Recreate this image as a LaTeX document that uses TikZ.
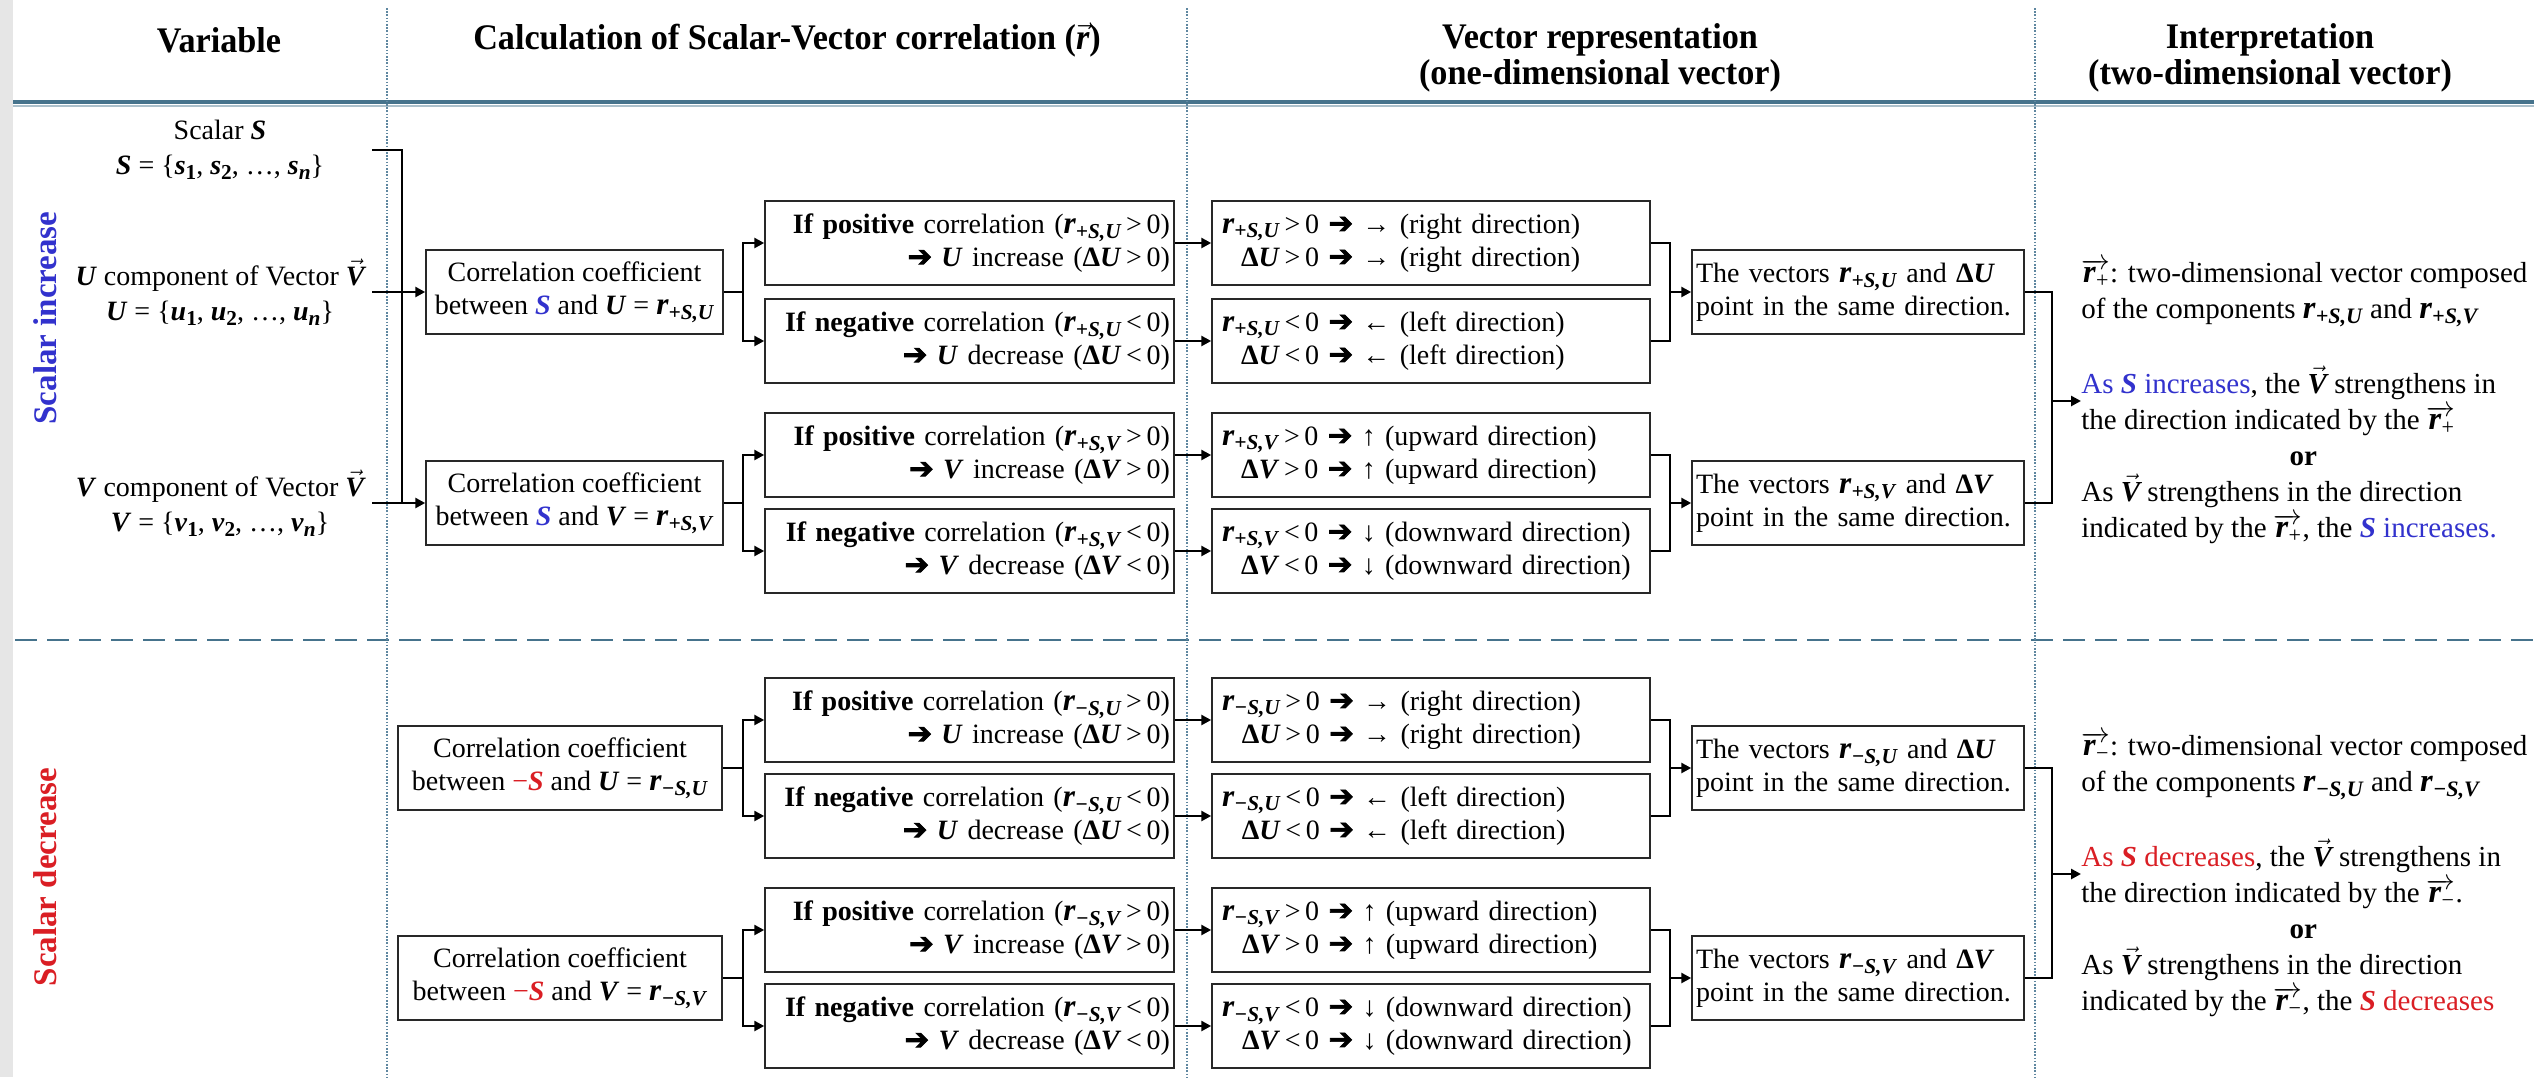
\documentclass[tikz,border=0pt]{standalone}
\usepackage{fontspec}
\usepackage{graphicx}
\setmainfont{Liberation Serif}
\newfontfamily\hdrfont{Liberation Serif}[FakeStretch=0.95]
\newfontfamily\djv{DejaVu Sans}[FakeBold=2.5]
\usetikzlibrary{arrows.meta}
\definecolor{sblue}{RGB}{50,50,205}
\definecolor{sred}{RGB}{218,30,36}
\definecolor{rulec}{RGB}{70,115,140}
\definecolor{dotc}{RGB}{95,135,160}
\definecolor{stripc}{RGB}{230,230,230}
\definecolor{bord}{RGB}{40,40,40}
\newcommand\bi[1]{\textbf{\textit{#1}}}
\newcommand\sbs[1]{\raisebox{-0.38ex}{\scalebox{0.76}{#1}}}
\newcommand\rr{\scalebox{1.12}{\bi{r}}}
\newcommand\rpos[1]{\rr\sbs{\bi{+S,#1}}}
\newcommand\rneg[1]{\rr\sbs{\bi{−S,#1}}}
\newcommand\dlt[1]{\textbf{Δ\textit{#1}}}
\newcommand\harr{{\djv\scalebox{1.05}{➔}}}
\newcommand\vV{\ensuremath{\vec{\mbox{\bfseries\itshape V}}}}
\newcommand\ovr[1]{\ensuremath{\overrightarrow{\mbox{\rr\sbs{#1}}}}}
\newcommand\poscase[2]{\textbf{If positive} correlation (#1\,>\,0)\\\harr{} \bi{#2} increase (\dlt{#2}\,>\,0)}
\newcommand\negcase[2]{\textbf{If negative} correlation (#1\,<\,0)\\\harr{} \bi{#2} decrease (\dlt{#2}\,<\,0)}
\newcommand\vecrows[4]{\begin{tabular}{@{}r@{}l@{}}#1 & \,#3\,0 \harr{} #4\\ \dlt{#2} & \,#3\,0 \harr{} #4\end{tabular}}
\tikzset{
  box/.style={draw=bord, line width=0.75pt, inner ysep=0pt, minimum height=42pt,
    font=\fontsize{14}{16.5}\selectfont},
  corrbox/.style={box, align=center, inner xsep=2pt, minimum width=#1},
  ifbox/.style={box, inner xsep=2pt, text width=200.5pt, align=right},
  vecbox/.style={box, inner xsep=5pt, text width=209pt, align=left},
  samebox/.style={box, inner xsep=2pt, text width=162pt, align=left},
  varn/.style={align=center, minimum width=152pt, inner sep=0pt, font=\fontsize{14}{17.5}\selectfont},
  hdr/.style={align=center, inner sep=0pt, font=\fontsize{18}{18}\selectfont\hdrfont\bfseries},
  side/.style={rotate=90, inner sep=0pt, font=\fontsize{16.5}{18}\selectfont\bfseries},
  interp/.style={align=left, inner sep=0pt, font=\fontsize{14.5}{18}\selectfont},
  conn/.style={line width=1.4pt, black},
  arr/.style={conn, -{Triangle[length=5pt,width=5pt]}},
  vdot/.style={dotc, line width=0.8pt, dash pattern=on 0.8pt off 0.8pt},
}
\begin{document}
\begin{tikzpicture}[x=0.5pt,y=-0.5pt]
\useasboundingbox (0,0) rectangle (2534,1077);
\fill[white] (0,0) rectangle (2534,1077);
\fill[stripc] (0,0) rectangle (13,1077);
% rules
\draw[rulec, line width=2pt] (13,102) -- (2534,102);
\draw[rulec!45, line width=1pt] (13,106) -- (2534,106);
\draw[rulec, line width=1.4pt, dash pattern=on 11pt off 5pt] (15,640) -- (2534,640);
\draw[vdot] (387,8) -- (387,1077);
\draw[vdot] (1187,8) -- (1187,1077);
\draw[vdot] (2035,8) -- (2035,1077);
% headers
\node[hdr] (hVar) at (219,40) {Variable};
\node[hdr] (hCalc) at (787,40) {Calculation of Scalar-Vector correlation (\ensuremath{\vec{\mbox{\bfseries\itshape r}}})};
\node[hdr] (hVec) at (1600,58) {Vector representation\\(one-dimensional vector)};
\node[hdr] (hInt) at (2270,58) {Interpretation\\(two-dimensional vector)};
% side labels
\node[side, text=sblue] (sInc) at (45,318) {Scalar increase};
\node[side, text=sred] (sDec) at (45,877) {Scalar decrease};
% variables
\node[varn] (vS) at (220,150) {Scalar \bi{S}\\\bi{S} = \{\bi{s}\sbs{\textbf{1}}, \bi{s}\sbs{\textbf{2}}, …, \bi{s}\sbs{\bi{n}}\}};
\node[varn] (vU) at (220,292) {\bi{U} component of Vector \vV\\\bi{U} = \{\bi{u}\sbs{\textbf{1}}, \bi{u}\sbs{\textbf{2}}, …, \bi{u}\sbs{\bi{n}}\}};
\node[varn] (vV) at (220,503) {\bi{V} component of Vector \vV\\\bi{V} = \{\bi{v}\sbs{\textbf{1}}, \bi{v}\sbs{\textbf{2}}, …, \bi{v}\sbs{\bi{n}}\}};
% column coordinates
\coordinate (bx0) at (402,0);
\coordinate (bx1) at (743,0);
\coordinate (bx2) at (1670,0);
\coordinate (bx3) at (2052,0);
% ---------- top section ----------
\node[corrbox=148.5pt] (cU) at (574.5,292) {Correlation coefficient\\between {\color{sblue}\bi{S}} and \bi{U} = \rpos{U}};
\node[corrbox=148.5pt] (cV) at (574.5,503) {Correlation coefficient\\between {\color{sblue}\bi{S}} and \bi{V} = \rpos{V}};
\node[ifbox] (a1) at (969.5,243) {\poscase{\rpos{U}}{U}};
\node[ifbox] (a2) at (969.5,341) {\negcase{\rpos{U}}{U}};
\node[ifbox] (a3) at (969.5,455) {\poscase{\rpos{V}}{V}};
\node[ifbox] (a4) at (969.5,551) {\negcase{\rpos{V}}{V}};
\node[vecbox] (b1) at (1431,243) {\vecrows{\rpos{U}}{U}{>}{→ (right direction)}};
\node[vecbox] (b2) at (1431,341) {\vecrows{\rpos{U}}{U}{<}{← (left direction)}};
\node[vecbox] (b3) at (1431,455) {\vecrows{\rpos{V}}{V}{>}{↑ (upward direction)}};
\node[vecbox] (b4) at (1431,551) {\vecrows{\rpos{V}}{V}{<}{↓ (downward direction)}};
\node[samebox] (s1) at (1858,292) {The vectors \rpos{U} and \dlt{U}\\point in the same direction.};
\node[samebox] (s2) at (1858,503) {The vectors \rpos{V} and \dlt{V}\\point in the same direction.};
\node[interp, anchor=west] (i1) at (2081,401) {\ovr{+}: two-dimensional vector composed\\
of the components \rpos{U} and \rpos{V}\\[19.5pt]
{\color{sblue}As \bi{S} increases}, the \vV{} strengthens in\\
the direction indicated by the \ovr{+}\\
\makebox[222pt]{\textbf{or}}\\
As \vV{} strengthens in the direction\\
indicated by the \ovr{+}, the {\color{sblue}\bi{S} increases.}};
% ---------- bottom section ----------
\node[corrbox=162pt] (cU2) at (560,768) {Correlation coefficient\\between {\color{sred}−\bi{S}} and \bi{U} = \rneg{U}};
\node[corrbox=162pt] (cV2) at (560,978) {Correlation coefficient\\between {\color{sred}−\bi{S}} and \bi{V} = \rneg{V}};
\node[ifbox] (a5) at (969.5,720) {\poscase{\rneg{U}}{U}};
\node[ifbox] (a6) at (969.5,816) {\negcase{\rneg{U}}{U}};
\node[ifbox] (a7) at (969.5,930) {\poscase{\rneg{V}}{V}};
\node[ifbox] (a8) at (969.5,1026) {\negcase{\rneg{V}}{V}};
\node[vecbox] (b5) at (1431,720) {\vecrows{\rneg{U}}{U}{>}{→ (right direction)}};
\node[vecbox] (b6) at (1431,816) {\vecrows{\rneg{U}}{U}{<}{← (left direction)}};
\node[vecbox] (b7) at (1431,930) {\vecrows{\rneg{V}}{V}{>}{↑ (upward direction)}};
\node[vecbox] (b8) at (1431,1026) {\vecrows{\rneg{V}}{V}{<}{↓ (downward direction)}};
\node[samebox] (s3) at (1858,768) {The vectors \rneg{U} and \dlt{U}\\point in the same direction.};
\node[samebox] (s4) at (1858,978) {The vectors \rneg{V} and \dlt{V}\\point in the same direction.};
\node[interp, anchor=west] (i2) at (2081,874) {\ovr{−}: two-dimensional vector composed\\
of the components \rneg{U} and \rneg{V}\\[19.5pt]
{\color{sred}As \bi{S} decreases}, the \vV{} strengthens in\\
the direction indicated by the \ovr{−}.\\
\makebox[222pt]{\textbf{or}}\\
As \vV{} strengthens in the direction\\
indicated by the \ovr{−}, the {\color{sred}\bi{S} decreases}};
% ---------- connectors ----------
\draw[conn] (vS.east) -| (bx0 |- vV.east);
\draw[arr] (vU.east) -- (cU.west);
\draw[arr] (vV.east) -- (cV.west);
\foreach \c/\p/\q in {cU/a1/a2, cV/a3/a4, cU2/a5/a6, cV2/a7/a8}{
  \draw[conn] (\c.east) -- (\c.east -| bx1);
  \draw[arr] (\c.east -| bx1) |- (\p.west);
  \draw[arr] (\c.east -| bx1) |- (\q.west);
}
\foreach \p/\q in {a1/b1, a2/b2, a3/b3, a4/b4, a5/b5, a6/b6, a7/b7, a8/b8}{
  \draw[arr] (\p.east) -- (\q.west);
}
\foreach \p/\q/\s in {b1/b2/s1, b3/b4/s2, b5/b6/s3, b7/b8/s4}{
  \draw[conn] (\p.east) -| (bx2 |- \q.east) -- (\q.east);
  \draw[arr] (bx2 |- \s.west) -- (\s.west);
}
\draw[conn] (s1.east) -| (bx3 |- s2.east) -- (s2.east);
\draw[arr] (bx3 |- i1.west) -- (i1.west);
\draw[conn] (s3.east) -| (bx3 |- s4.east) -- (s4.east);
\draw[arr] (bx3 |- i2.west) -- (i2.west);
\end{tikzpicture}
\end{document}
